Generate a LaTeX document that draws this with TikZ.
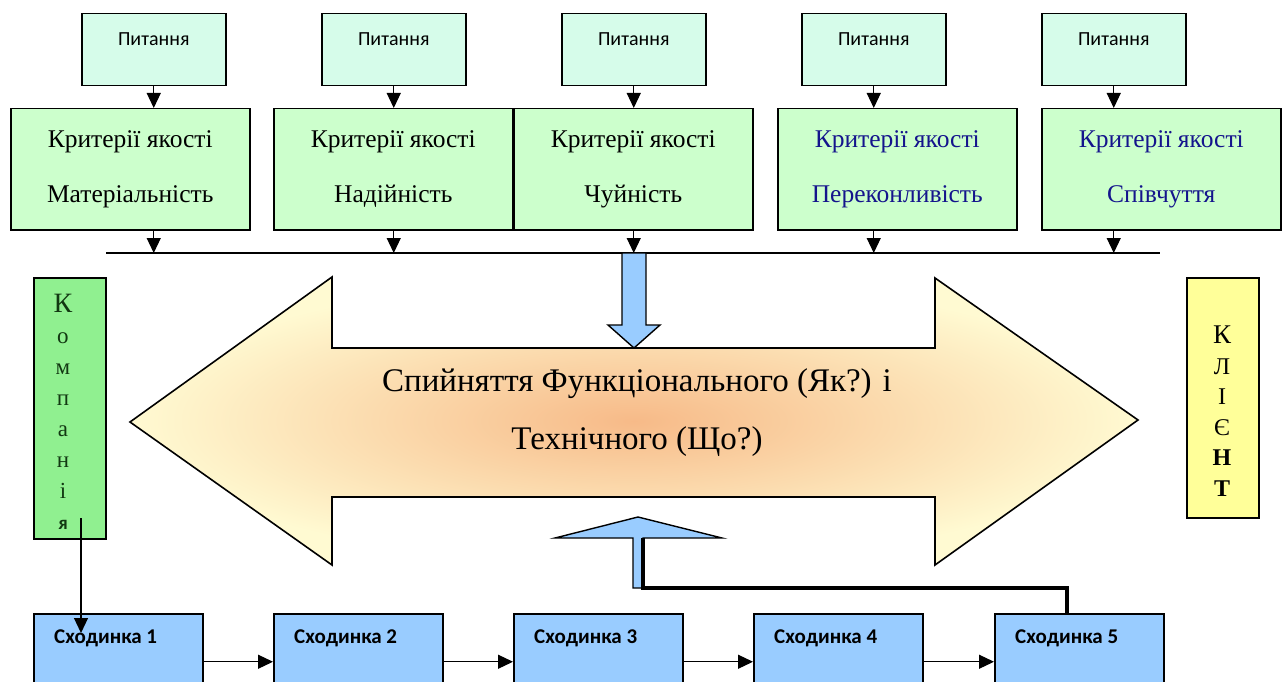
\documentclass[tikz,border=0pt]{standalone}
\usepackage{fontspec}
\setmainfont{Liberation Serif}
\newfontfamily\calfont{Carlito}
\usetikzlibrary{arrows.meta}
\definecolor{qfill}{HTML}{D6FCEA}
\definecolor{cfill}{HTML}{CCFFCC}
\definecolor{kfill}{HTML}{90F090}
\definecolor{yfill}{HTML}{FFFF99}
\definecolor{bfill}{HTML}{99CCFF}
\definecolor{navy}{HTML}{14148C}
\definecolor{dgreen}{HTML}{123812}
\definecolor{argin}{HTML}{F7BA88}
\definecolor{argout}{HTML}{FFFAD2}
\begin{document}
\begin{tikzpicture}[x=1pt,y=-1pt,
  qbox/.style={draw=black, line width=1.5pt, fill=qfill, minimum width=144pt, minimum height=72pt, anchor=north west, inner sep=0pt},
  qtxt/.style={font=\calfont\fontsize{20}{22}\selectfont, inner sep=0pt},
  cbox/.style={draw=black, line width=1.5pt, fill=cfill, minimum width=239pt, minimum height=121pt, anchor=north west, inner sep=0pt, align=center, font=\fontsize{25.5}{55}\selectfont},
  sbox/.style={draw=black, line width=1.5pt, fill=bfill, minimum width=169pt, minimum height=96pt, anchor=north west, inner sep=0pt},
  stxt/.style={font=\calfont\bfseries\fontsize{21}{22}\selectfont, anchor=west, inner sep=0pt},
  vbox/.style={draw=black, line width=1.5pt, minimum width=72pt, anchor=north west, inner sep=0pt},
  arr/.style={line width=1.2pt, -{Triangle[length=15pt,width=14pt]}},
  shape arrow/.style={draw=black, line width=1.4pt, fill=bfill}]
\clip (0,0) rectangle (1288,682);
\fill[white] (0,0) rectangle (1288,682);

% question boxes
\foreach \i/\x in {1/81,2/321,3/561,4/801,5/1041}{
  \node[qbox] (q\i) at (\x,13) {};
  \node[qtxt] (qt\i) at ([yshift=11pt]q\i.center) {Питання};
}
% criteria boxes
\node[cbox] (c1) at (10,108) {Критерії якості\\Матеріальність};
\node[cbox] (c2) at (273,108) {Критерії якості\\Надійність};
\node[cbox] (c3) at (513,108) {Критерії якості\\Чуйність};
\node[cbox, text=navy] (c4) at (777,108) {Критерії якості\\Переконливість};
\node[cbox, text=navy] (c5) at (1041,108) {Критерії якості\\Співчуття};

% bus line
\coordinate (busL) at (106,253);
\coordinate (busR) at (1160,253);
\draw[line width=1.4pt] (busL) -- (busR);

\foreach \i in {1,...,5}{
  \draw[arr] (q\i.south) -- (q\i.south |- c\i.north);
  \draw[arr] (q\i.south |- c\i.south) -- (q\i.south |- busL);
}

% big double arrow
\shadedraw[inner color=argin, outer color=argout, line width=1.6pt]
  (130,422) -- (332,277) -- (332,348) -- (935,348) -- (935,278) -- (1138,420)
  -- (935,565) -- (935,497) -- (332,497) -- (332,565) -- cycle;
\node[align=center, font=\fontsize{33}{58}\selectfont] (main) at (637,413)
  {Спийняття Функціонального (Як?) і\\Технічного (Що?)};

% blue down arrow
\draw[shape arrow] (622,253) -- (622,325) -- (608,325) -- (634,348) -- (660,325) -- (646,325) -- (646,253) -- cycle;

% company / client
\node[vbox, fill=kfill, minimum height=261pt] (comp) at (33,277) {};
\node[align=center, text=dgreen, font=\fontsize{23}{31}\selectfont] (compt) at (63,412)
  {{\fontsize{28}{31}\selectfont К}\\о\\м\\п\\а\\н\\і\\{\calfont\bfseries\fontsize{19}{31}\selectfont я}};
\node[vbox, fill=yfill, minimum height=240pt] (cli) at (1186,277) {};
\node[align=center, font=\fontsize{24}{30.5}\selectfont] (clit) at (1222,411)
  {{\fontsize{27}{30.5}\selectfont К}\\Л\\І\\Є\\\textbf{Н}\\\textbf{Т}};

% steps
\foreach \i/\x in {1/33,2/273,3/513,4/753,5/994}{
  \node[sbox] (s\i) at (\x,613) {};
  \node[stxt] (st\i) at ([xshift=21pt,yshift=-25pt]s\i.north west) {Сходинка \i};
}
\foreach \i/\j in {1/2,2/3,3/4,4/5}{
  \draw[arr] (s\i.east) -- (s\j.west);
}
\coordinate (kstart) at (81,518);
\coordinate (kend) at (81,633);
\draw[arr] (kstart) -- (kend);

% feedback up arrow
\draw[shape arrow] (633,588) -- (633,538) -- (555,538) -- (638,517) -- (722,538) -- (643,538) -- (643,588) -- cycle;
\coordinate (upbase) at (643,588);
\coordinate (uptop) at (643,538);
\draw[line width=3.6pt] ([xshift=-12pt]s5.north) -- ([xshift=-12pt]s5.north |- upbase) -- (upbase) -- (uptop);
\end{tikzpicture}
\end{document}
